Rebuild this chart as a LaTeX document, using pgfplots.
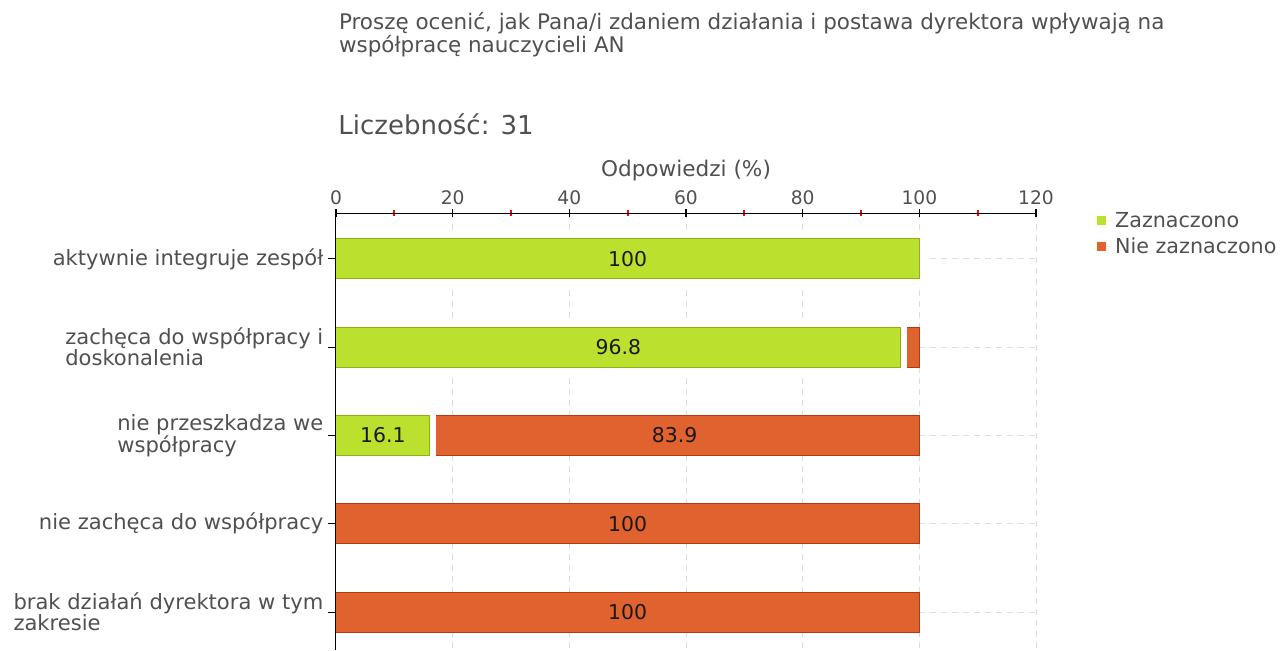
\documentclass[border=0pt]{standalone}
\usepackage{fontspec}
\setmainfont{DejaVu Sans}
\usepackage{pgfplots}
\pgfplotsset{compat=1.18}
\definecolor{zgreen}{RGB}{188,224,46}
\definecolor{zgreenD}{RGB}{140,178,22}
\definecolor{zred}{RGB}{224,98,46}
\definecolor{zredD}{RGB}{180,58,14}
\definecolor{txt}{RGB}{80,80,80}
\definecolor{gridc}{RGB}{220,220,220}
\newcommand{\lbl}{\fontsize{15.8}{15.75}\selectfont}
\begin{document}
\begin{tikzpicture}
\begin{axis}[
  scale only axis, width=525pt, height=327.75pt,
  xmin=0, xmax=120, ymin=-0.52, ymax=4.43, y dir=reverse,
  axis x line*=top, axis y line*=left,
  axis line style={black, line width=0.75pt, -},
  axis on top, clip=false,
  xtick={0,20,...,120}, minor xtick={10,30,...,110},
  ytick={0,1,2,3,4},
  yticklabels={{aktywnie integruje zespół},{zachęca do współpracy i\\doskonalenia},{nie przeszkadza we\\współpracy},{nie zachęca do współpracy},{brak działań dyrektora w tym\\zakresie}},
  xtick align=center, ytick align=outside,
  major tick length=6pt, minor tick length=4.5pt,
  major tick style={black, line width=0.8pt},
  minor tick style={color=red, line width=1.4pt},
  /pgf/number format/assume math mode=true,
  xticklabel style={font=\fontsize{14}{16}\selectfont, text=txt},
  yticklabel style={font=\lbl, text=txt, align=left},
  legend style={at={(1.087,1.009)}, anchor=north west, draw=none, fill=none,
    font=\fontsize{15.5}{17}\selectfont, text=txt, row sep=2.5pt, inner sep=0pt},
  legend cell align=left,
  legend image code/.code={\fill[#1, draw=none] (0pt,-3.4pt) rectangle (6.8pt,3.4pt); \path[draw=none] (0pt,0pt) -- (11.5pt,0pt);},
]
% grid
\foreach \g in {20,40,60,80,100,120}{
  \edef\tmp{\noexpand\draw[gridc, line width=0.75pt, dash pattern=on 4.5pt off 3.75pt] (axis cs:\g,-0.52) -- (axis cs:\g,4.43);}\tmp
}
\foreach \g in {0,1,2,3,4}{
  \edef\tmp{\noexpand\draw[gridc, line width=0.75pt, dash pattern=on 4.5pt off 3.75pt] (axis cs:0,\g) -- (axis cs:120,\g);}\tmp
}
\addlegendimage{fill=zgreen}
\addlegendentry{Zaznaczono}
\addlegendimage{fill=zred}
\addlegendentry{Nie zaznaczono}
% stacking base (invisible): Zaznaczono
\addplot[stack plots=x, draw=none, forget plot] coordinates {(100,0) (96.8,1) (16.1,2) (0,3) (0,4)};
% Nie zaznaczono
\addplot[xbar, stack plots=x, bar width=30pt, bar shift=0pt, fill=zred, draw=zredD, line width=0.75pt, forget plot]
  coordinates {(0,0) (3.2,1) (83.9,2) (100,3) (100,4)};
% Zaznaczono (visible)
\addplot[xbar, bar width=30pt, bar shift=0pt, fill=zgreen, draw=zgreenD, line width=0.75pt,
  preaction={draw=white, line width=9pt}, forget plot]
  coordinates {(100,0) (96.8,1) (16.1,2)};
% value labels
\addplot[draw=none, forget plot, nodes near coords, point meta=explicit symbolic,
  nodes near coords style={anchor=center, font=\fontsize{15.3}{16}\selectfont, text=black!90}]
  coordinates {(50,0) [100] (48.4,1) [96.8] (8.05,2) [16.1] (58.05,2) [83.9] (50,3) [100] (50,4) [100]};
% titles
\node[anchor=base west, align=left, font=\fontsize{16.1}{17.25}\selectfont, text=txt, inner sep=0pt]
  at (axis description cs:0.004,1.3684) {Proszę ocenić, jak Pana/i zdaniem działania i postawa dyrektora wpływają na\\współpracę nauczycieli AN};
\node[anchor=base west, font=\fontsize{19.5}{22}\selectfont, text=txt, inner sep=0pt]
  at (axis description cs:0.003,1.1785) {Liczebność: 31};
\node[anchor=base, font=\fontsize{16.2}{18}\selectfont, text=txt, inner sep=0pt]
  at (axis description cs:0.5,1.0824) {Odpowiedzi (\%)};
\end{axis}
\pgfresetboundingbox
\path[use as bounding box] (-252pt,0pt) rectangle (708pt,487.5pt);
\end{tikzpicture}
\end{document}
